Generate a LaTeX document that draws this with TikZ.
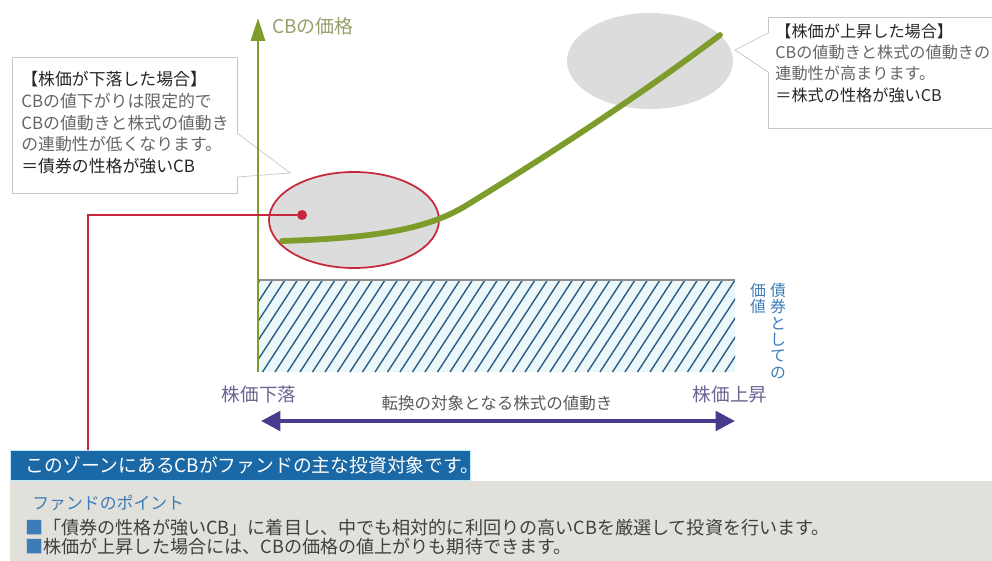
\documentclass[tikz,border=0pt]{standalone}
\usepackage{fontspec}
\setmainfont{Noto Sans CJK JP}
\usetikzlibrary{positioning,arrows.meta}
\definecolor{cbgreen}{HTML}{7E9C2B}
\definecolor{cblabel}{HTML}{95A06A}
\definecolor{zonered}{HTML}{C8283E}
\definecolor{zonegray}{HTML}{DCDCDC}
\definecolor{hatchblue}{HTML}{2A5E86}
\definecolor{hatchbg}{HTML}{ECF7FA}
\definecolor{movepurple}{HTML}{4A3A8E}
\definecolor{movetext}{HTML}{6B6391}
\definecolor{bondblue}{HTML}{3C7DB8}
\definecolor{barblue}{HTML}{1A69A6}
\definecolor{panelgray}{HTML}{E1E0DB}

\begin{document}
\begin{tikzpicture}
[x=0.02cm,y=-0.02cm,
 box/.style={draw=black!22,fill=white,anchor=north west,inner sep=0pt},
 note/.style={anchor=north west,align=left,inner sep=0pt,text=black!60,
   font=\fontsize{9.6}{12.4}\selectfont},
 axislabel/.style={text=cblabel,font=\fontsize{10.8}{12}\selectfont},
 movelabel/.style={text=movetext,font=\fontsize{10.6}{12}\selectfont},
 vlabel/.style={text=bondblue,align=center,inner sep=0pt,anchor=north,
   font=\fontsize{9}{9.3}\selectfont},
 zonebar/.style={anchor=north west,fill=barblue,draw=cyan!25,text=white,
   minimum height=0.6cm,text width=8.6cm,inner xsep=0.3cm,inner ysep=0pt,
   align=left,font=\fontsize{10.7}{12}\selectfont},
 bullet/.style={anchor=west,inner sep=0pt,text=black!75,
   font=\fontsize{10.3}{12}\selectfont}]
\useasboundingbox (0,0) rectangle (992,561);

% callouts
\node[box,minimum width=4.5cm,minimum height=2.72cm] (downbox) at (12,57) {};
\coordinate (downtip) at (290,173);
\fill[white] (236,133) -- (downtip) -- (236,177) -- cycle;
\draw[black!22] (237,133) -- (downtip) -- (237,177);
\node[note] (downtext) at (21,71)
  {\textcolor{black!85}{【株価が下落した場合】}\\CBの値下がりは限定的で\\
   CBの値動きと株式の値動き\\の連動性が低くなります。\\
   \textcolor{black!85}{＝債券の性格が強いCB}};

\node[box,minimum width=4.8cm,minimum height=2.22cm] (upbox) at (768,17) {};
\coordinate (uptip) at (735,50);
\fill[white] (769,33) -- (uptip) -- (769,72) -- cycle;
\draw[black!22] (768,33) -- (uptip) -- (768,72);
\node[note,font=\fontsize{9.2}{12.2}\selectfont] (uptext) at (775,23)
  {\textcolor{black!85}{【株価が上昇した場合】}\\CBの値動きと株式の値動きの\\
   連動性が高まります。\\\textcolor{black!85}{＝株式の性格が強いCB}};

% bond floor
\fill[hatchbg] (258,280) rectangle (735,372);
\begin{scope}
  \clip (258,280) rectangle (735,372);
  \foreach \i in {0,...,42}
    \draw[hatchblue,line width=0.8pt] (200+12.5*\i,372) -- ++(60,-92);
\end{scope}
\draw[black!45,line width=1.4pt] (258,280) -- (735,280);
\node[vlabel] (bondA) at (778,283) {債\\券\\と\\し\\て\\の};
\node[vlabel] (bondB) at (758,283) {価\\値};

% axis
\coordinate (origin) at (258,372);
\coordinate (top) at (258,18);
\draw[cbgreen,line width=1.5pt,-{Triangle[length=13pt,width=8pt]}] (origin) -- (top);
\node[axislabel,anchor=west] (price) at (266,26) {CBの価格};

% zones and price curve
\fill[zonegray] (650,61) ellipse [x radius=83, y radius=48];
\filldraw[fill=zonegray,draw=zonered,line width=1pt] (354,220) ellipse [x radius=85, y radius=48];
\draw[cbgreen,line width=3.3pt,line cap=round]
  (282,241) .. controls (380,238) and (430,228) .. (467,205)
  .. controls (560,148) and (650,88) .. (720,35);

% stock move
\node[movelabel] (fall) at (259,394) {株価下落};
\node[movelabel] (rise) at (730,394) {株価上昇};
\node[text=black!65,font=\fontsize{9.4}{11}\selectfont] (move) at (497,403)
  {転換の対象となる株式の値動き};
\coordinate (lo) at (261,421);
\coordinate (hi) at (735,421);
\draw[movepurple,line width=2.3pt,
  {Triangle[length=11pt,width=11pt]}-{Triangle[length=11pt,width=11pt]}] (lo) -- (hi);

% fund point
\node[anchor=north west,fill=panelgray,minimum width=19.7cm,minimum height=1.6cm,
  inner sep=0pt] (panel) at (10,481) {};
\node[zonebar] (zone) at (10,450) {このゾーンにあるCBがファンドの主な投資対象です。};
\node[circle,fill=zonered,inner sep=0pt,minimum size=0.2cm] (dot) at (302,215) {};
\coordinate (bend) at (88,215);
\draw[zonered,line width=1pt] (dot) -- (bend) -- (bend |- zone.north);
\node[anchor=west,inner sep=0pt,text=bondblue,font=\fontsize{9.6}{12}\selectfont]
  (point) at (32,503) {ファンドのポイント};
\node[bullet] (pointA) at (25,528)
  {\textcolor{bondblue}{■}「債券の性格が強いCB」に着目し、中でも相対的に利回りの高いCBを厳選して投資を行います。};
\node[bullet] (pointB) at (25,547)
  {\textcolor{bondblue}{■}株価が上昇した場合には、CBの価格の値上がりも期待できます。};
\end{tikzpicture}
\end{document}
